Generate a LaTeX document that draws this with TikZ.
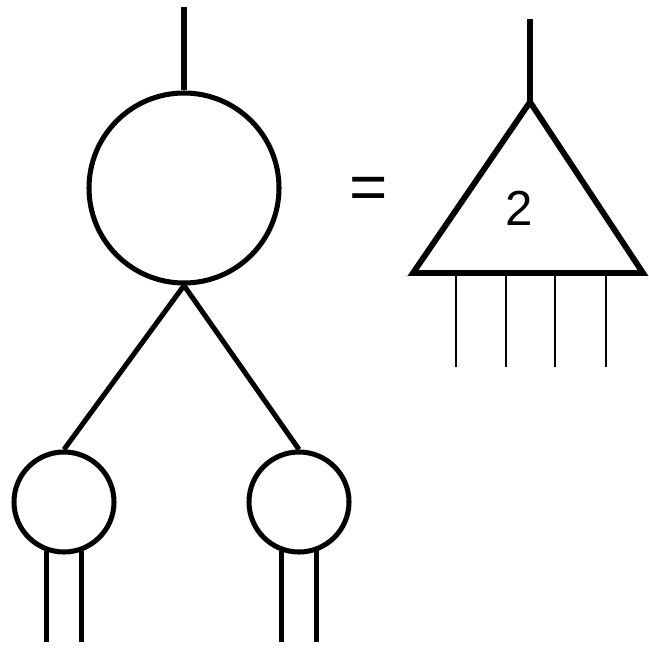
\documentclass[tikz,border=0pt]{standalone}
\usepackage{fontspec}
\setmainfont{Liberation Sans}
\usetikzlibrary{positioning,calc}

\begin{document}
\begin{tikzpicture}[x=0.03cm,y=-0.03cm,
    bigblob/.style={circle,draw,line width=4.3pt,minimum size=5.7cm,inner sep=0pt},
    blob/.style={circle,draw,line width=4.3pt,minimum size=3cm,inner sep=0pt},
    wire/.style={line width=4.3pt},
    thinwire/.style={line width=1.5pt}]
  \useasboundingbox (0,0) rectangle (649,647);

  % left side: tree of circles
  \node[bigblob] (root) at (184,188) {};
  \node[blob] (lchild) at (64,502) {};
  \node[blob] (rchild) at (299,502) {};
  \coordinate (rootin) at (184,7);
  \coordinate (foot) at (0,642);

  \draw[wire] (rootin) -- (root.north);
  \draw[wire] (root.south) -- (lchild.north);
  \draw[wire] (root.south) -- (rchild.north);
  \foreach \c in {lchild,rchild}{
    \draw[wire] (\c.-110) -- (\c.-110 |- foot);
    \draw[wire] (\c.-70) -- (\c.-70 |- foot);
  }

  % equals sign
  \node[anchor=base,font=\fontsize{56}{60}\selectfont] (eq) at (369,209) {=};

  % right side: triangle
  \coordinate (apex) at (530,102);
  \coordinate (bl) at (413,273);
  \coordinate (br) at (643,273);
  \coordinate (triin) at (530,19);
  \draw[wire] (triin) -- (apex);
  \draw[wire,line width=5pt] (apex) -- (bl) -- (br) -- cycle;
  \node[font=\fontsize{42}{44}\selectfont] (deg) at (519,208) {2};
  \foreach \x in {456,506,555,606}
    \draw[thinwire] (\x,273) -- (\x,367);
\end{tikzpicture}
\end{document}
